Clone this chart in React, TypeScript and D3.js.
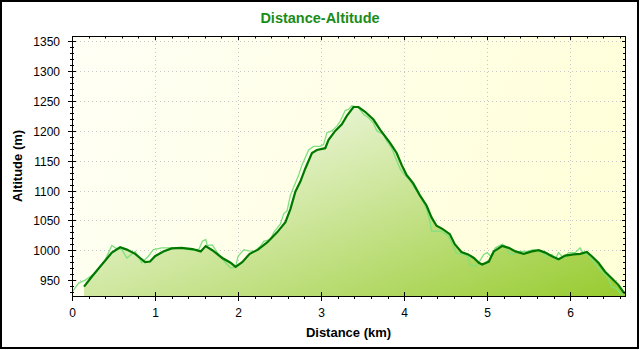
import * as d3 from 'd3'

// smoothed profile (dark line)
const distSmooth = [0.145, 0.24, 0.36, 0.48, 0.58, 0.66, 0.76, 0.82, 0.88, 0.94, 1.0, 1.1, 1.2, 1.32, 1.45, 1.55, 1.61, 1.69, 1.81, 1.91, 1.97, 2.05, 2.14, 2.24, 2.35, 2.47, 2.57, 2.63, 2.69, 2.75, 2.81, 2.89, 2.95, 3.05, 3.09, 3.17, 3.25, 3.31, 3.39, 3.45, 3.53, 3.63, 3.71, 3.83, 3.91, 3.97, 4.03, 4.11, 4.19, 4.27, 4.33, 4.39, 4.47, 4.55, 4.61, 4.69, 4.77, 4.84, 4.9, 4.94, 5.02, 5.08, 5.18, 5.26, 5.34, 5.44, 5.54, 5.62, 5.7, 5.78, 5.86, 5.94, 6.04, 6.12, 6.2, 6.26, 6.34, 6.42, 6.5, 6.58, 6.64, 6.66]
const altSmooth = [939, 956, 976, 996, 1005, 1001, 994, 987, 980, 981, 990, 998, 1003, 1004, 1002, 998, 1007, 1000, 987, 979, 972, 980, 994, 1001, 1013, 1030, 1047, 1069, 1098, 1115, 1137, 1163, 1168, 1171, 1185, 1200, 1211, 1225, 1240, 1240, 1232, 1219, 1202, 1180, 1163, 1143, 1126, 1112, 1092, 1075, 1055, 1041, 1035, 1027, 1010, 997, 993, 987, 979, 976, 981, 998, 1007, 1004, 998, 994, 998, 1000, 996, 990, 985, 991, 993, 994, 997, 990, 979, 964, 953, 942, 930, 928]

// raw GPS profile (light line)
const distRaw = [0, 0.08, 0.16, 0.28, 0.4, 0.48, 0.52, 0.6, 0.66, 0.76, 0.84, 0.92, 0.98, 1.08, 1.2, 1.32, 1.45, 1.53, 1.57, 1.61, 1.63, 1.69, 1.77, 1.85, 1.91, 1.97, 2.0, 2.07, 2.13, 2.2, 2.27, 2.31, 2.39, 2.43, 2.51, 2.55, 2.59, 2.63, 2.67, 2.73, 2.77, 2.85, 2.91, 2.99, 3.03, 3.07, 3.13, 3.19, 3.23, 3.29, 3.33, 3.37, 3.45, 3.51, 3.57, 3.63, 3.67, 3.75, 3.79, 3.85, 3.89, 3.95, 3.99, 4.07, 4.13, 4.21, 4.27, 4.31, 4.33, 4.45, 4.53, 4.59, 4.63, 4.71, 4.77, 4.79, 4.86, 4.92, 4.96, 5.0, 5.04, 5.1, 5.18, 5.22, 5.26, 5.32, 5.4, 5.48, 5.56, 5.64, 5.72, 5.78, 5.82, 5.86, 5.92, 5.98, 6.06, 6.12, 6.16, 6.22, 6.28, 6.34, 6.4, 6.46, 6.5, 6.56, 6.6, 6.64]
const altRaw = [930, 945, 950, 962, 984, 1008, 1004, 1001, 987, 998, 979, 990, 1001, 1004, 1004, 1003, 1000, 1002, 1015, 1018, 1008, 1009, 992, 979, 970, 972, 990, 1001, 999, 998, 1007, 1015, 1018, 1030, 1044, 1061, 1066, 1092, 1106, 1126, 1143, 1168, 1174, 1174, 1177, 1197, 1200, 1208, 1216, 1234, 1236, 1242, 1239, 1228, 1222, 1213, 1200, 1194, 1183, 1171, 1157, 1137, 1129, 1117, 1103, 1086, 1069, 1049, 1032, 1032, 1024, 1007, 995, 993, 990, 976, 973, 984, 993, 996, 990, 1004, 1010, 1007, 996, 993, 998, 998, 1001, 998, 990, 993, 985, 996, 987, 996, 996, 1004, 994, 993, 981, 970, 962, 953, 939, 936, 928, 925]

const xTicks = [0, 1, 2, 3, 4, 5, 6]
const yTicks = [950, 1000, 1050, 1100, 1150, 1200, 1250, 1300, 1350]

const W = 640
const H = 350
const L = 72, R = 625, T = 36, B = 296

export default function App() {
  const x = d3.scaleLinear().domain([0, 6.66]).range([L, R])
  const y = d3.scaleLinear().domain([923.3, 1359]).range([B, T])

  const smooth = distSmooth.map((d, i) => [d, altSmooth[i]] as [number, number])
  const raw = distRaw.map((d, i) => [d, altRaw[i]] as [number, number])

  const line = d3.line<[number, number]>().x(d => x(d[0])).y(d => y(d[1]))
  const area = d3.area<[number, number]>().x(d => x(d[0])).y0(B).y1(d => y(d[1]))

  const xMinor = d3.range(0, 6.61, 0.2).filter(v => Math.abs(v - Math.round(v)) > 0.01)
  const yMinor = d3.range(930, 1360, 10).filter(v => v % 50 !== 0)

  const font = '"Liberation Sans", Arial, sans-serif'

  return (
    <svg width={W} height={H} style={{ position: 'absolute', left: 0, top: 0 }}>
      <defs>
        <linearGradient id="bg" gradientUnits="userSpaceOnUse" x1={L} y1={T} x2={R} y2={B}>
          <stop offset="0" stopColor="#fffff6" />
          <stop offset="1" stopColor="#ffffd6" />
        </linearGradient>
        <linearGradient id="fill" gradientUnits="userSpaceOnUse" x1={489} y1={-40} x2={620} y2={290}>
          <stop offset="0" stopColor="#ffffff" />
          <stop offset="1" stopColor="#99cc33" />
        </linearGradient>
        <clipPath id="clip">
          <rect x={L} y={T} width={R - L} height={B - T} />
        </clipPath>
      </defs>
      <rect x={0} y={0} width={W} height={H} fill="#fff" />
      <rect x={1} y={1} width={637} height={347} fill="none" stroke="#000" strokeWidth={2} />

      <text x={320} y={23} textAnchor="middle" fontFamily={font} fontWeight="bold" fontSize={14.5} fill="#1a8c1a">
        Distance-Altitude
      </text>

      <rect x={L} y={T} width={R - L} height={B - T} fill="url(#bg)" />

      {/* grid */}
      {yTicks.map(t => (
        <line key={'gy' + t} x1={L} x2={R} y1={Math.round(y(t)) + 0.5} y2={Math.round(y(t)) + 0.5} stroke="#c8c8c8" strokeDasharray="1,3" />
      ))}
      {xTicks.slice(1).map(t => (
        <line key={'gx' + t} y1={T} y2={B} x1={Math.round(x(t)) + 0.5} x2={Math.round(x(t)) + 0.5} stroke="#c8c8c8" strokeDasharray="1,3" />
      ))}

      <g clipPath="url(#clip)">
        <path d={area(smooth)!} fill="url(#fill)" />
        <path d={line(raw)!} fill="none" stroke="#7fe07f" strokeWidth={1.3} />
        <path d={line(smooth)!} fill="none" stroke="#007800" strokeWidth={2.2} />
      </g>

      {/* frame of plot */}
      <rect x={L + 0.5} y={T + 0.5} width={R - L} height={B - T} fill="none" stroke="#000" />

      {/* y ticks left and right */}
      {yTicks.map(t => {
        const yy = Math.round(y(t)) + 0.5
        return (
          <g key={'ty' + t}>
            <line x1={L - 4} x2={L + 4} y1={yy} y2={yy} stroke="#000" />
            <line x1={R - 3} x2={R + 0.5} y1={yy} y2={yy} stroke="#000" />
            <text x={60} y={yy + 4} textAnchor="end" fontFamily={font} fontSize={12} fill="#000">{t}</text>
          </g>
        )
      })}
      {yMinor.map(t => {
        const yy = Math.round(y(t)) + 0.5
        return (
          <g key={'my' + t}>
            <line x1={L - 2} x2={L + 2} y1={yy} y2={yy} stroke="#000" />
            <line x1={R - 2} x2={R + 0.5} y1={yy} y2={yy} stroke="#000" />
          </g>
        )
      })}

      {/* x ticks bottom and top */}
      {xTicks.map(t => {
        const xx = Math.round(x(t)) + 0.5
        return (
          <g key={'tx' + t}>
            <line x1={xx} x2={xx} y1={B - 4} y2={B + 5} stroke="#000" />
            <line x1={xx} x2={xx} y1={T} y2={T + 4} stroke="#000" />
            <text x={xx} y={317} textAnchor="middle" fontFamily={font} fontSize={12} fill="#000">{t}</text>
          </g>
        )
      })}
      {xMinor.map(t => {
        const xx = Math.round(x(t)) + 0.5
        return (
          <g key={'mx' + t}>
            <line x1={xx} x2={xx} y1={B} y2={B + 3} stroke="#000" />
            <line x1={xx} x2={xx} y1={T} y2={T + 2.5} stroke="#000" />
          </g>
        )
      })}

      <text x={(L + R) / 2} y={337} textAnchor="middle" fontFamily={font} fontWeight="bold" fontSize={13} fill="#000">
        Distance (km)
      </text>
      <text transform={`translate(22, ${(T + B) / 2}) rotate(-90)`} textAnchor="middle" fontFamily={font} fontWeight="bold" fontSize={13} fill="#000">
        Altitude (m)
      </text>
    </svg>
  )
}
